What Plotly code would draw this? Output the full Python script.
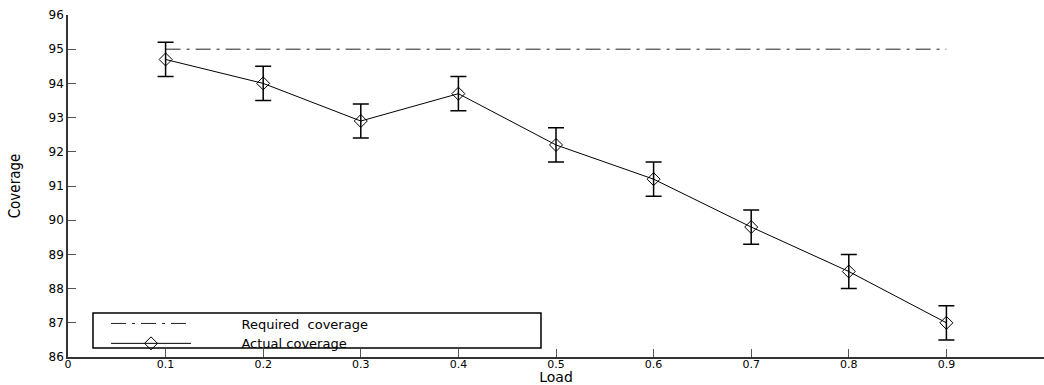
import plotly.graph_objects as go

load = [0.1, 0.2, 0.3, 0.4, 0.5, 0.6, 0.7, 0.8, 0.9]
actual = [94.7, 94.0, 92.9, 93.7, 92.2, 91.2, 89.8, 88.5, 87.0]
err = [0.5, 0.5, 0.5, 0.5, 0.5, 0.5, 0.5, 0.5, 0.5]
required_x = [0.1, 0.9]
required_y = [95, 95]
x_ticks = [0, 0.1, 0.2, 0.3, 0.4, 0.5, 0.6, 0.7, 0.8, 0.9, 1]
x_tick_labels = ["0", "0.1", "0.2", "0.3", "0.4", "0.5", "0.6", "0.7", "0.8", "0.9", "1"]
y_ticks = [86, 87, 88, 89, 90, 91, 92, 93, 94, 95, 96]

NB = "\u00a0"
fig = go.Figure()
fig.add_trace(go.Scatter(
    x=required_x, y=required_y, mode="lines",
    name=NB * 11 + "Required" + NB * 2 + "coverage",
    line=dict(color="#222", width=1, dash="15px,6px,3px,6px"),
))
fig.add_trace(go.Scatter(
    x=load, y=actual, mode="lines+markers",
    name=NB * 11 + "Actual coverage",
    line=dict(color="black", width=1),
    marker=dict(symbol="diamond-open", size=10, color="black", line=dict(width=1)),
    error_y=dict(type="data", array=err, visible=True, color="black", thickness=1.5, width=8),
))

L, R, T, B = 68, 0, 15, 28
W, H = 1044, 385
pw = W - L - R
ph = H - T - B

def px_x(p):
    return (p - L) / pw

def px_y(p):
    return (H - B - p) / ph

fig.add_shape(type="rect", xref="paper", yref="paper",
              x0=px_x(93), x1=px_x(541), y0=px_y(348), y1=px_y(313),
              line=dict(color="black", width=1.5), fillcolor="white", layer="below")

fig.update_layout(
    width=W, height=H,
    margin=dict(l=L, r=R, t=T, b=B),
    paper_bgcolor="white", plot_bgcolor="white",
    font=dict(family="DejaVu Sans", color="black", size=12),
    showlegend=True,
    legend=dict(
        x=px_x(106), y=px_y(333.5), xanchor="left", yanchor="middle",
        bgcolor="rgba(0,0,0,0)", borderwidth=0,
        font=dict(family="DejaVu Sans", size=13, color="black"),
        itemwidth=80, tracegroupgap=0,
    ),
    xaxis=dict(
        range=[0, 1], tickvals=x_ticks, ticktext=x_tick_labels,
        showgrid=False, zeroline=False, showline=True, linecolor="#333", linewidth=1.5,
        ticks="inside", ticklen=8, tickcolor="#555", tickwidth=1,
        tickfont=dict(family="DejaVu Sans", size=11),
        ticklabelstandoff=-4,
        title=dict(text="Load", standoff=0, font=dict(family="DejaVu Sans", size=14)),
        automargin=False,
    ),
    yaxis=dict(
        range=[86, 96], tickvals=y_ticks,
        showgrid=False, zeroline=False, showline=True, linecolor="#333", linewidth=1.5,
        ticks="inside", ticklen=8, tickcolor="#555", tickwidth=1,
        tickfont=dict(family="DejaVu Sans", size=12),
        title=dict(text="Coverage", standoff=24,
                   font=dict(family="Liberation Sans Narrow, Arial Narrow, DejaVu Sans Condensed", size=15)),
        automargin=False,
    ),
)

fig.write_html("out.html")
